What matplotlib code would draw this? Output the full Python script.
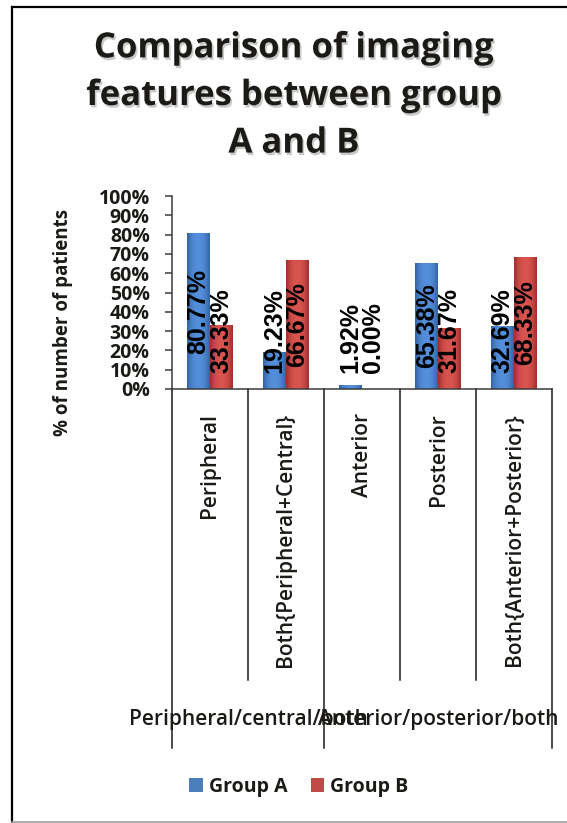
import numpy as np
import matplotlib
matplotlib.use("Agg")
import matplotlib.pyplot as plt
from matplotlib import transforms
from matplotlib.lines import Line2D
from matplotlib.patches import Patch
import matplotlib.patheffects as pe

# ---- data ----
title = "Comparison of imaging\nfeatures between group\nA and B"
categories = ["Peripheral", "Both{Peripheral+Central}", "Anterior", "Posterior",
              "Both{Anterior+Posterior}"]
groups = ["Peripheral/central/both", "Anterior/posterior/both"]
group_sizes = [2, 3]
series_names = ["Group A", "Group B"]
group_a = [80.77, 19.23, 1.92, 65.38, 32.69]
group_b = [33.33, 66.67, 0.00, 31.67, 68.33]
yticks = [0, 10, 20, 30, 40, 50, 60, 70, 80, 90, 100]
ylabel = "% of number of patients"

W, H = 567, 823
fig = plt.figure(figsize=(W / 100, H / 100), dpi=100)
fig.patch.set_facecolor("white")

def fx(px):
    return px / W

def fy(py):
    return 1 - py / H

ax = fig.add_axes([fx(172), fy(389), fx(552) - fx(172), fy(196) - fy(389)])
ax.set_facecolor("none")

txt_col = "#1c1a17"
x = np.arange(len(categories))
bw = 0.297
series = [group_a, group_b]
edge_cols = [np.array([0.20, 0.38, 0.62]), np.array([0.62, 0.18, 0.17])]
mid_cols = [np.array([0.33, 0.56, 0.86]), np.array([0.85, 0.33, 0.31])]
flat_cols = ["#4A7EBB", "#BE4B48"]

for si, vals in enumerate(series):
    offs = (si - 0.5) * bw
    bars = ax.bar(x + offs, vals, width=bw, color=flat_cols[si], zorder=2,
                  linewidth=0)
    for patch in bars:
        x0, y0 = patch.get_x(), patch.get_y()
        w, h = patch.get_width(), patch.get_height()
        if h <= 0:
            continue
        t = np.linspace(0, 1, 60)
        prof = 1 - np.abs(2 * t - 1) ** 2.2
        cols = edge_cols[si] + (mid_cols[si] - edge_cols[si]) * prof[:, None]
        img = cols[None, :, :]
        im = ax.imshow(img, extent=(x0, x0 + w, y0, y0 + h), aspect="auto",
                       zorder=2.1, interpolation="bilinear")
        im.set_clip_path(patch)
    # data labels
    for xi, v in zip(x + offs, vals):
        if v / 2 >= 30:
            ax.text(xi, v / 2, f"{v:.2f}%", rotation=90, ha="center", va="center",
                    fontsize=18, fontweight="bold", family="Liberation Sans",
                    color="black", zorder=5)
        else:
            ax.text(xi, 8.3, f"{v:.2f}%", rotation=90, ha="center", va="bottom",
                    fontsize=18, fontweight="bold", family="Liberation Sans",
                    color="black", zorder=5)

ax.set_xlim(-0.5, len(categories) - 0.5)
ax.set_ylim(0, 100)
ax.set_yticks(yticks)
ax.set_yticklabels([f"{t}%" for t in yticks], fontsize=14, fontweight="bold",
                   family="Open Sans", color=txt_col)
ax.tick_params(axis="y", length=5, width=1.1, color="#3a3a3a", pad=11)
ax.set_xticks([])
for s in ["top", "right"]:
    ax.spines[s].set_visible(False)
ax.spines["left"].set_color("#3a3a3a")
ax.spines["bottom"].set_color("#3a3a3a")
ax.spines["left"].set_linewidth(1.1)
ax.spines["bottom"].set_linewidth(1.1)

# multi-level category axis
bt = transforms.blended_transform_factory(ax.transData, fig.transFigure)
group_edges = np.cumsum([0] + group_sizes) - 0.5
for b in np.arange(len(categories) + 1) - 0.5:
    full = np.any(np.isclose(group_edges, b))
    yend = fy(748) if full else fy(680)
    ax.add_line(Line2D([b, b], [fy(389), yend], transform=bt, color="#1a1a1a",
                       lw=1.1, clip_on=False))
for xi, c in zip(x, categories):
    ax.text(xi, fy(413), c, transform=bt, rotation=90, ha="center", va="top",
            fontsize=15, family="Open Sans", fontweight="semibold", color=txt_col)
for gi, g in enumerate(groups):
    c = (group_edges[gi] + group_edges[gi + 1]) / 2
    ax.text(c, fy(720), g, transform=bt, ha="center", va="center",
            fontsize=15, family="Open Sans", fontweight="semibold", color=txt_col)

# title
fig.text(fx(294), fy(96), title, ha="center", va="center", fontsize=25,
         fontweight="bold", family="Open Sans", color=txt_col, linespacing=1.43,
         path_effects=[pe.SimplePatchShadow(offset=(1.2, -1.8), shadow_rgbFace="#888888",
                                            alpha=0.45), pe.Normal()])

# y label
fig.text(fx(63), fy(322), ylabel, rotation=90, ha="center", va="center",
         fontsize=13.5, fontweight="bold", family="Open Sans", color=txt_col)

# legend
handles = [Patch(facecolor=flat_cols[i], edgecolor="none", label=series_names[i])
           for i in range(2)]
leg = fig.legend(handles=handles, loc="center", bbox_to_anchor=(fx(299), fy(787)),
                 ncol=2, frameon=False, handlelength=0.7, handleheight=0.7,
                 handletextpad=0.3, columnspacing=1.2,
                 prop={"family": "Open Sans", "weight": "bold", "size": 14})
for t in leg.get_texts():
    t.set_color(txt_col)

# outer frame
fig.add_artist(Line2D([fx(12), fx(12)], [fy(7), fy(822)], transform=fig.transFigure,
                      color="black", lw=1.6))
fig.add_artist(Line2D([fx(12), 1.0], [fy(7), fy(7)], transform=fig.transFigure,
                      color="black", lw=1.6))
fig.add_artist(Line2D([fx(12), 1.0], [fy(822), fy(822)], transform=fig.transFigure,
                      color="#a0a0a0", lw=1.2))

fig.savefig("out.png", dpi=100)
